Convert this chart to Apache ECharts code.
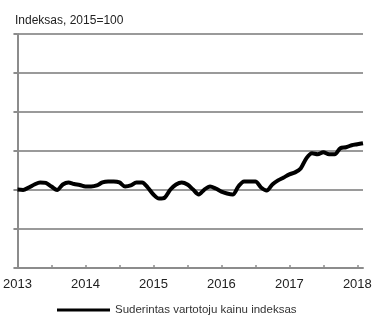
<!DOCTYPE html>
<html>
<head>
<meta charset="utf-8">
<script src="https://cdn.jsdelivr.net/npm/echarts@6/dist/echarts.min.js"></script>
<style>
  html, body { margin: 0; padding: 0; background: #fff; }
  #main { width: 375px; height: 315px; }
</style>
</head>
<body>
<div id="main"></div>
<script>
// menesiai nuo 2013 m. sausio (0) iki 2018 m. vasario (61)
var startYear = 2013;
var seriesName = 'Suderintas vartotoju kainu indeksas';
var hicp = [
  100.06, 100.00, 100.32, 100.71, 100.97, 100.90, 100.45, 100.00, 100.71, 100.97, 100.77, 100.65,
  100.45, 100.45, 100.58, 100.97, 101.10, 101.10, 100.97, 100.45, 100.58, 100.97, 100.97, 100.32,
  99.42, 98.90, 99.03, 100.06, 100.71, 100.97, 100.71, 100.06, 99.42, 100.06, 100.45, 100.19,
  99.80, 99.55, 99.42, 100.45, 101.10, 101.10, 101.10, 100.32, 99.94, 100.71, 101.23, 101.61,
  102.00, 102.26, 102.77, 104.06, 104.71, 104.58, 104.84, 104.58, 104.58, 105.35, 105.48, 105.74,
  105.87, 106.00
];

var points = hicp.map(function (v, i) { return [i, v]; });

var myChart = echarts.init(document.getElementById('main'));

var option = {
    animation: false,
    //pavadinimas
    title: {
        text: 'Indeksas, 2015=100',
        left: 10,
        top: 10,
        textStyle: {
            fontFamily: 'Liberation Sans',
            fontSize: 12,
            fontWeight: 'normal',
            color: '#222'
        }
    },
    legend: {
        top: 299,
        left: 52,
        icon: 'rect',
        itemWidth: 53,
        itemHeight: 3,
        itemGap: 4,
        textStyle: {
            fontFamily: 'Liberation Sans',
            fontSize: 11.5,
            color: '#333'
        },
        data: [seriesName]
    },
    grid: {
        left: 10,
        right: 12,
        top: 34,
        bottom: 47,
        containLabel: false
    },
    xAxis: {
        type: 'value',
        min: 0,
        max: 61,
        interval: 6,
        axisLine: { lineStyle: { color: '#8c8c8c', width: 2 } },
        axisTick: { inside: true, length: 3, lineStyle: { color: '#8c8c8c', width: 1.5 } },
        axisLabel: {
            margin: 10,
            fontFamily: 'Liberation Sans',
            fontSize: 13,
            color: '#222',
            showMaxLabel: false,
            formatter: function (v) {
                return v % 12 === 0 ? String(startYear + v / 12) : '';
            }
        },
        splitLine: { show: false }
    },
    yAxis: {
        type: 'value',
        min: 90,
        max: 120,
        interval: 5,
        axisLine: { show: true, lineStyle: { color: '#8c8c8c', width: 2 } },
        axisTick: { show: true, length: 4, lineStyle: { color: '#8c8c8c', width: 2 } },
        axisLabel: { show: false },
        splitLine: { lineStyle: { color: '#9a9a9a', width: 2 } }
    },
    series: [{
        name: seriesName,
        type: 'line',
        data: points,
        smooth: 0.3,
        showSymbol: false,
        lineStyle: { color: '#000', width: 4 },
        itemStyle: { color: '#000' }
    }]
};

myChart.setOption(option);
</script>
</body>
</html>
